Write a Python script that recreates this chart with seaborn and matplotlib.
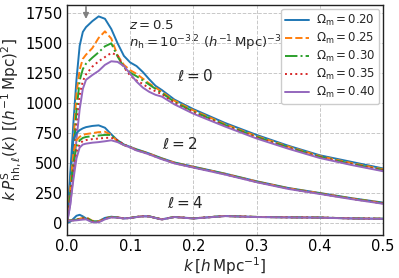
import numpy as np
import pandas as pd
import matplotlib
matplotlib.use("Agg")
import matplotlib.pyplot as plt
import seaborn as sns

k = [0.0, 0.005, 0.01, 0.015, 0.02, 0.025, 0.03, 0.04, 0.05, 0.06, 0.07, 0.08, 0.09,
     0.10, 0.11, 0.12, 0.13, 0.14, 0.15, 0.17, 0.20, 0.25, 0.30, 0.35, 0.40, 0.45, 0.50]

omegas = ["0.20", "0.25", "0.30", "0.35", "0.40"]

# l = 0 monopole
P0_020 = [0, 400, 830, 1200, 1480, 1595, 1635, 1685, 1725, 1705, 1620, 1500, 1395,
          1340, 1310, 1260, 1200, 1145, 1110, 1030, 950, 835, 735, 645, 565, 510, 455]
P0_025 = [0, 300, 650, 1080, 1280, 1370, 1405, 1460, 1545, 1600, 1540, 1400, 1320,
          1275, 1245, 1205, 1165, 1130, 1095, 1020, 940, 825, 725, 638, 558, 500, 448]
P0_030 = [0, 250, 560, 940, 1190, 1285, 1330, 1380, 1425, 1475, 1500, 1390, 1300,
          1255, 1225, 1190, 1155, 1120, 1085, 1010, 930, 818, 718, 632, 552, 494, 442]
P0_035 = [0, 200, 480, 810, 1070, 1185, 1240, 1305, 1350, 1385, 1420, 1400, 1300,
          1230, 1190, 1160, 1125, 1100, 1075, 1000, 922, 812, 712, 626, 548, 490, 438]
P0_040 = [0, 150, 400, 700, 950, 1120, 1195, 1235, 1270, 1320, 1350, 1345, 1310,
          1245, 1180, 1130, 1095, 1070, 1055, 990, 912, 805, 705, 620, 542, 484, 432]

# l = 2 quadrupole
P2_020 = [0, 350, 700, 750, 775, 790, 800, 810, 815, 795, 740, 690, 655,
          635, 615, 598, 580, 560, 540, 505, 470, 412, 348, 292, 250, 207, 170]
P2_025 = [0, 280, 580, 690, 720, 735, 742, 750, 758, 762, 735, 680, 650,
          632, 612, 596, 578, 558, 538, 503, 468, 410, 346, 290, 248, 205, 167]
P2_030 = [0, 230, 500, 640, 690, 710, 718, 725, 730, 735, 735, 685, 652,
          632, 610, 594, 576, 556, 536, 501, 466, 408, 344, 288, 246, 203, 165]
P2_035 = [0, 190, 430, 590, 660, 685, 692, 700, 705, 710, 712, 690, 655,
          631, 608, 592, 574, 554, 534, 499, 464, 406, 342, 286, 244, 201, 163]
P2_040 = [0, 150, 360, 540, 630, 655, 662, 670, 675, 682, 690, 675, 650,
          630, 605, 590, 572, 552, 532, 497, 462, 404, 340, 284, 242, 199, 160]

# l = 4 hexadecapole
P4_020 = [0, 10, 35, 60, 68, 55, 38, 8, 15, 42, 52, 46, 38,
          42, 50, 56, 55, 42, 30, 50, 38, 58, 50, 47, 45, 38, 35]
P4_025 = [20, 22, 25, 30, 35, 42, 48, 18, 12, 38, 50, 46, 38,
          42, 50, 56, 55, 42, 30, 50, 38, 58, 50, 47, 45, 38, 35]
P4_030 = [20, 21, 24, 28, 33, 40, 45, 15, 10, 36, 50, 46, 38,
          42, 50, 56, 55, 42, 30, 50, 38, 58, 50, 47, 45, 38, 35]
P4_035 = [20, 20, 22, 26, 30, 36, 40, 12, 8, 34, 48, 45, 38,
          42, 50, 56, 55, 42, 30, 50, 38, 58, 50, 47, 45, 38, 35]
P4_040 = [20, 19, 20, 22, 25, 28, 30, 5, 5, 30, 46, 44, 37,
          41, 49, 55, 54, 41, 29, 49, 37, 57, 49, 46, 44, 37, 34]

series = {
    0: [P0_020, P0_025, P0_030, P0_035, P0_040],
    2: [P2_020, P2_025, P2_030, P2_035, P2_040],
    4: [P4_020, P4_025, P4_030, P4_035, P4_040],
}

rows = []
for ell, lst in series.items():
    for om, vals in zip(omegas, lst):
        for kk, v in zip(k, vals):
            rows.append({"k": kk, "P": v, "ell": ell, "om": om})
df = pd.DataFrame(rows)

sns.set_theme(style="white")
plt.rcParams["font.family"] = ["DejaVu Sans"]
plt.rcParams["mathtext.fontset"] = "dejavusans"

fig = plt.figure(figsize=(3.99, 2.78), dpi=100)
ax = fig.add_axes([0.168, 0.155, 0.792, 0.827])

colors = ["#1f77b4", "#ff7f0e", "#2ca02c", "#d62728", "#9467bd"]
styles = ["-", "--", "-.", ":", "-"]

for ell in [0, 2, 4]:
    for i, om in enumerate(omegas):
        sub = df[(df.ell == ell) & (df.om == om)]
        sns.lineplot(data=sub, x="k", y="P", ax=ax, color=colors[i], linestyle=styles[i],
                     linewidth=1.4, label=(r"$\Omega_{\rm m} = %s$" % om) if ell == 0 else None,
                     legend=False, sort=False)

ax.set_xlim(0, 0.5)
ax.set_ylim(-100, 1820)
ax.set_xticks([0.0, 0.1, 0.2, 0.3, 0.4, 0.5])
ax.set_yticks([0, 250, 500, 750, 1000, 1250, 1500, 1750])
ax.grid(True, linestyle="--", color="#c8c8c8", linewidth=0.7)
for s in ax.spines.values():
    s.set_color("#222222")
    s.set_linewidth(1.0)
ax.tick_params(direction="in", length=3, labelsize=10.5, colors="black", pad=3)

ax.set_xlabel(r"$k\,[h\,{\rm Mpc}^{-1}]$", fontsize=11, labelpad=1)
ax.set_ylabel(r"$k\,P^{\rm S}_{{\rm hh},\ell}(k)\ [(h^{-1}\,{\rm Mpc})^2]$", fontsize=11, labelpad=2)

ax.text(0.098, 1650, r"$z = 0.5$", fontsize=9.5, va="center")
ax.text(0.098, 1505, r"$n_{\rm h} = 10^{-3.2}\ (h^{-1}\,{\rm Mpc})^{-3}$", fontsize=9.5, va="center")
ax.text(0.174, 1230, r"$\ell = 0$", fontsize=11, va="center")
ax.text(0.15, 660, r"$\ell = 2$", fontsize=11, va="center")
ax.text(0.158, 166, r"$\ell = 4$", fontsize=11, va="center")

ax.annotate("", xy=(0.03, 1680), xytext=(0.03, 1830),
            arrowprops=dict(arrowstyle="-|>", color="gray", lw=1.2, mutation_scale=8))

handles, labels = ax.get_legend_handles_labels()
ax.legend(handles, labels, loc="upper right", fontsize=8.5, frameon=True, framealpha=1,
          edgecolor="#cccccc", handlelength=2.0, labelspacing=0.25, borderpad=0.35,
          handletextpad=0.6, borderaxespad=0.3)

fig.savefig("out.png", dpi=100)
